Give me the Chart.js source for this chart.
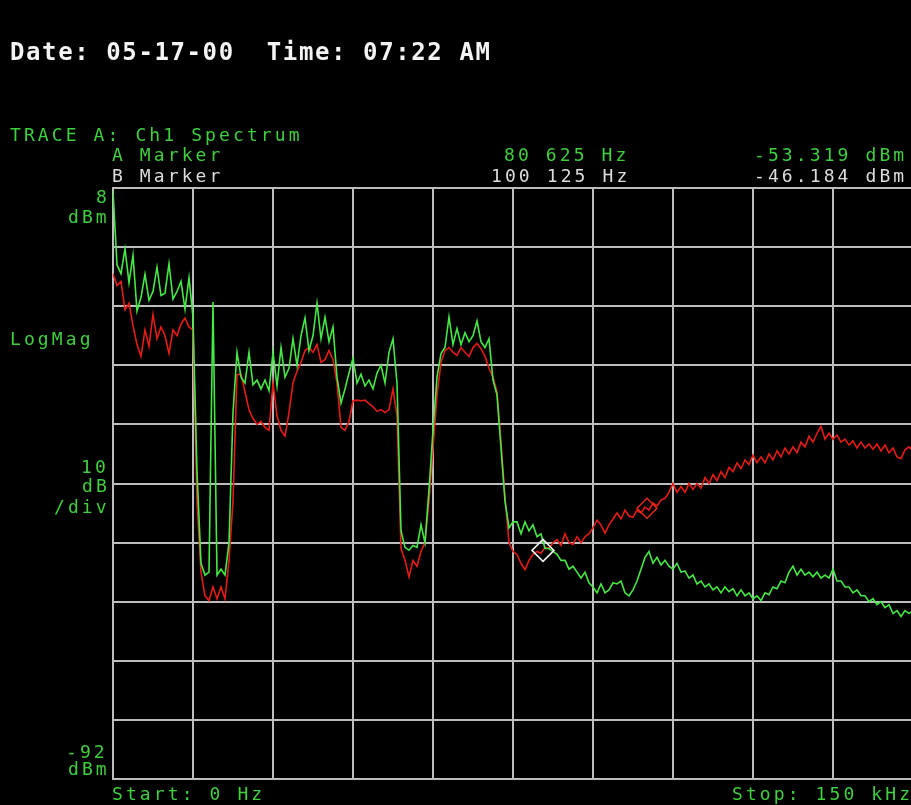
<!DOCTYPE html>
<html>
<head>
<meta charset="utf-8">
<script src="https://cdn.jsdelivr.net/npm/chart.js@4.4.1/dist/chart.umd.min.js"></script>
<style>
  html, body { margin: 0; padding: 0; background: #000; width: 911px; height: 805px; overflow: hidden; }
  #wrap { position: absolute; left: 0; top: 0; width: 916px; height: 805px; }
  .t { position: absolute; white-space: pre; font-family: "DejaVu Sans Mono", monospace; font-size: 18px;
       letter-spacing: 3.1px; line-height: 1; }
  .g { color: #3fcf3f; }
  .w { color: #dcdcdc; }
  #hdr { font-size: 24px; font-weight: bold; letter-spacing: 1.6px; color: #f4f4f4; }
</style>
</head>
<body>
<div id="wrap"><canvas id="c" width="916" height="805"></canvas></div>

<div class="t" id="hdr" style="left:10px;top:40px;">Date: 05-17-00  Time: 07:22 AM</div>

<div class="t g" style="left:10px;top:126px;">TRACE A: Ch1 Spectrum</div>
<div class="t g" style="left:112px;top:146px;">A Marker</div>
<div class="t w" style="left:112px;top:167px;">B Marker</div>
<div class="t g" style="left:504px;top:146px;">80 625 Hz</div>
<div class="t w" style="left:491px;top:167px;">100 125 Hz</div>
<div class="t g" style="left:754px;top:146px;">-53.319 dBm</div>
<div class="t w" style="left:754px;top:167px;">-46.184 dBm</div>

<div class="t g" style="left:96px;top:188px;">8</div>
<div class="t g" style="left:68px;top:208px;">dBm</div>
<div class="t g" style="left:10px;top:330px;">LogMag</div>
<div class="t g" style="left:81px;top:458px;">10</div>
<div class="t g" style="left:82px;top:477px;">dB</div>
<div class="t g" style="left:54px;top:498px;">/div</div>
<div class="t g" style="left:66px;top:743px;">-92</div>
<div class="t g" style="left:68px;top:760px;">dBm</div>
<div class="t g" style="left:112px;top:785px;">Start: 0 Hz</div>
<div class="t g" style="left:732px;top:785px;">Stop: 150 kHz</div>

<script>
// Sweep span of the analyzer
const START_HZ = 0;
const STOP_HZ = 150000;

// Grid: 10 horizontal and 10 vertical divisions
const REF_LEVEL_DBM = 8;
const BOTTOM_DBM = -92;
const DB_PER_DIV = 10;
const HZ_PER_DIV = 15000;

// Trace A, channel 1 spectrum (green), dBm per sweep bin
const GREEN_DBM = [
  7.5, -5.0, -6.5, -2.3, -8.0, -3.4, -12.8, -10.5, -6.6, -11.0,
  -9.5, -5.4, -10.2, -9.8, -4.8, -10.8, -9.5, -7.8, -12.5, -7.2,
  -13.8, -40.0, -55.5, -57.5, -57.0, -11.3, -57.5, -56.5, -57.5, -52.0,
  -30.0, -19.8, -24.0, -25.0, -19.8, -25.3, -24.5, -26.0, -24.5, -26.3,
  -19.8, -25.5, -19.0, -24.0, -22.5, -17.5, -22.0, -17.0, -14.0, -19.5,
  -17.0, -11.5, -17.5, -13.9, -18.0, -15.5, -24.0, -28.4, -26.0, -23.3,
  -20.8, -25.0, -23.5, -25.5, -24.5, -26.0, -23.3, -22.0, -25.0, -19.8,
  -17.5, -25.0, -50.0, -52.8, -53.3, -52.5, -52.8, -49.0, -52.0, -43.0,
  -33.0, -24.0, -20.0, -19.0, -13.8, -18.5, -15.8, -18.5, -16.5, -18.0,
  -17.0, -14.5, -18.0, -19.0, -17.5, -24.5, -27.0, -36.0, -45.0, -49.5,
  -48.5, -48.5, -50.5, -48.5, -50.0, -49.0, -51.0, -50.5, -53.0, -53.0,
  -53.5, -54.0, -55.0, -55.0, -56.5, -56.0, -57.0, -58.0, -57.0, -58.8,
  -59.5, -60.5, -59.0, -60.5, -60.0, -58.8, -59.0, -58.5, -60.5, -61.0,
  -60.0, -58.5, -56.5, -54.5, -53.5, -55.5, -54.5, -55.8, -55.0, -56.0,
  -56.5, -55.5, -57.0, -56.8, -58.0, -57.5, -59.0, -58.5, -59.5, -59.0,
  -60.0, -59.5, -60.5, -59.5, -60.3, -59.8, -61.0, -60.0, -61.0, -60.5,
  -61.5, -61.0, -61.8, -60.5, -60.8, -59.5, -59.8, -58.5, -58.8, -57.0,
  -56.0, -57.5, -56.5, -57.5, -57.0, -57.8, -57.0, -58.0, -57.5, -58.0,
  -56.5, -58.5, -58.5, -59.5, -59.5, -60.5, -60.0, -61.0, -61.0, -62.0,
  -61.5, -62.5, -62.0, -63.0, -62.5, -64.0, -63.5, -64.5, -63.5, -64.0,
  -63.5
];

// Second trace (red), dBm per sweep bin
const RED_DBM = [
  -6.5, -8.5, -7.8, -12.6, -11.5, -15.3, -18.5, -20.5, -16.0, -18.8,
  -13.4, -17.5, -15.5, -17.0, -20.0, -16.0, -17.0, -15.0, -14.0, -15.5,
  -16.0, -45.0, -57.0, -61.0, -61.8, -59.5, -61.5, -59.5, -61.5, -55.0,
  -45.0, -23.6, -23.5, -26.5, -29.5, -31.0, -32.0, -31.5, -32.5, -33.0,
  -25.0, -30.5, -33.0, -34.0, -30.0, -25.0, -23.0, -21.5, -19.5, -19.0,
  -19.8, -18.5, -21.5, -21.0, -19.5, -21.0, -25.0, -32.5, -33.0, -31.5,
  -28.0, -27.9, -28.0, -27.9, -28.5, -29.0, -29.8, -29.5, -30.0, -29.5,
  -26.0, -30.5, -53.0, -55.0, -57.8, -55.0, -56.0, -53.5, -52.0, -45.0,
  -36.0, -27.0, -21.5, -19.5, -19.0, -19.8, -20.3, -19.0, -19.8, -20.5,
  -19.0, -18.3, -19.2, -20.5, -22.5, -24.0, -26.5, -35.0, -44.3, -52.0,
  -53.5, -54.0, -55.5, -56.6, -55.0, -54.0, -53.5, -53.8, -52.8, -53.0,
  -52.0, -51.5, -52.5, -50.5, -52.0, -52.3, -51.0, -52.0, -51.0, -50.5,
  -49.5, -48.2, -49.0, -50.4, -49.0, -48.0, -47.0, -48.0, -46.5, -47.5,
  -47.7, -46.5, -47.0, -46.0, -46.5, -45.3, -45.8, -44.8, -44.5, -43.5,
  -42.0, -43.5, -42.5, -43.5, -42.0, -43.0, -42.0, -42.8, -41.0, -42.0,
  -40.5, -41.5, -40.0, -41.0, -39.3, -40.0, -38.5, -39.5, -38.0, -38.8,
  -37.2, -38.5, -37.5, -38.5, -37.0, -38.0, -36.5, -37.5, -36.0, -37.0,
  -35.8, -36.8, -35.0, -35.8, -34.0, -35.0, -33.5, -32.3, -34.5, -33.5,
  -34.5, -33.8, -35.0, -34.5, -35.5, -34.8, -36.0, -35.0, -36.0, -35.3,
  -36.2, -35.3, -36.5, -35.5, -36.8, -36.0, -37.5, -37.8, -36.3, -35.8,
  -36.5
];

// Marker readouts
const MARKER_A = { hz: 80625, dbm: -53.319 };
const MARKER_B = { hz: 100125, dbm: -46.184 };

// Frequency of each sweep bin across the span
const binHz = (n, i) => START_HZ + i * (STOP_HZ - START_HZ) / (n - 1);
const toPoints = (vals) => vals.map((v, i) => ({ x: binHz(vals.length, i), y: v }));

const GRID = '#bdbdbd';
const axisStyle = {
  grid: { color: GRID, lineWidth: 2, drawTicks: false },
  border: { display: true, color: GRID, width: 2 }
};

new Chart(document.getElementById('c'), {
  type: 'line',
  data: {
    datasets: [
      {
        label: 'A Marker',
        data: [{ x: MARKER_A.hz, y: MARKER_A.dbm }],
        showLine: false,
        pointStyle: 'rectRot',
        pointRadius: 11,
        pointBorderWidth: 1.5,
        pointBorderColor: '#f2f2f2',
        pointBackgroundColor: 'rgba(0,0,0,0)'
      },
      {
        label: 'B Marker',
        data: [{ x: MARKER_B.hz, y: MARKER_B.dbm }],
        showLine: false,
        pointStyle: 'rectRot',
        pointRadius: 10,
        pointBorderWidth: 1.5,
        pointBorderColor: '#e02a20',
        pointBackgroundColor: 'rgba(0,0,0,0)'
      },
      {
        label: 'Trace A',
        data: toPoints(GREEN_DBM),
        borderColor: '#45e845',
        borderWidth: 1.6,
        pointRadius: 0,
        tension: 0
      },
      {
        label: 'Trace B',
        data: toPoints(RED_DBM),
        borderColor: '#e41c16',
        borderWidth: 1.6,
        pointRadius: 0,
        tension: 0
      }
    ]
  },
  options: {
    responsive: false,
    animation: false,
    devicePixelRatio: 1,
    layout: { autoPadding: false, padding: { left: 113, right: 3, top: 188, bottom: 26 } },
    plugins: { legend: { display: false }, tooltip: { enabled: false } },
    scales: {
      x: Object.assign({
        type: 'linear', min: START_HZ, max: STOP_HZ,
        ticks: { display: false, stepSize: HZ_PER_DIV }
      }, axisStyle),
      y: Object.assign({
        type: 'linear', min: BOTTOM_DBM, max: REF_LEVEL_DBM,
        ticks: { display: false, stepSize: DB_PER_DIV }
      }, axisStyle)
    }
  }
});
</script>
</body>
</html>
